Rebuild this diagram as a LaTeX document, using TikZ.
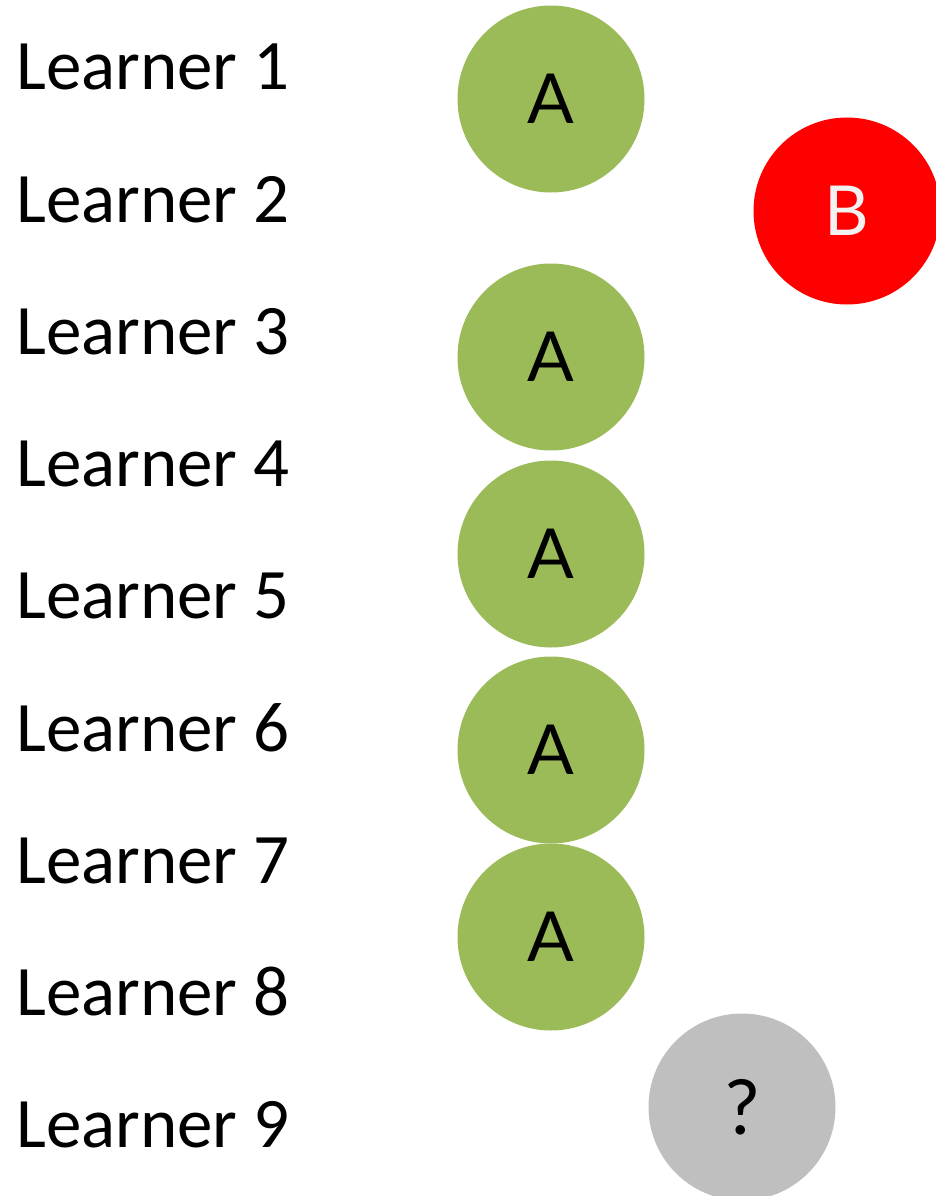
\documentclass[tikz,border=0pt]{standalone}
\usepackage{fontspec}
\setmainfont{Carlito}
\newfontfamily\badgefont{Lato}
\usepackage{tikz}
\usetikzlibrary{positioning}
\usepackage{xcolor}
\definecolor{classA}{HTML}{9BBB59}
\definecolor{classB}{HTML}{FF0000}
\definecolor{unknown}{HTML}{BFBFBF}
\definecolor{offwhite}{HTML}{F2F2F2}

\begin{document}
\begin{tikzpicture}[
            x=1pt, y=-1pt,
            learner/.style={anchor=base west, inner sep=0pt, font=\fontsize{71}{78}\selectfont},
            badge/.style={circle, minimum size=187pt, inner sep=0pt, font=\badgefont\fontsize{69}{75}\selectfont},
            labelA/.style={badge, fill=classA, text=black},
            labelB/.style={badge, fill=classB, text=offwhite},
            labelQ/.style={badge, fill=unknown, text=black, font=\badgefont\fontsize{76}{80}\selectfont}
        ]
            \useasboundingbox (0,0) rectangle (936,1196);

            % --- LEARNERS ---
            \node[learner] (learner1) at (16,90) {Learner 1};
            \node[learner] (learner2) at (16,222) {Learner 2};
            \node[learner] (learner3) at (16,354) {Learner 3};
            \node[learner] (learner4) at (16,486) {Learner 4};
            \node[learner] (learner5) at (16,618) {Learner 5};
            \node[learner] (learner6) at (16,751) {Learner 6};
            \node[learner] (learner7) at (16,883) {Learner 7};
            \node[learner] (learner8) at (16,1015) {Learner 8};
            \node[learner] (learner9) at (16,1147) {Learner 9};

            % --- PREDICTIONS ---
            \node[labelA] (predA1) at (551,99) {A};
            \node[labelB] (predB)  at (847,211) {B};
            \node[labelA] (predA2) at (551,357) {A};
            \node[labelA] (predA3) at (551,554) {A};
            \node[labelA] (predA4) at (551,750) {A};
            \node[labelA] (predA5) at (551,937) {A};

            % --- UNLABELLED ---
            \node[labelQ] (predQ) at (742,1107) {?};
        \end{tikzpicture}
\end{document}
